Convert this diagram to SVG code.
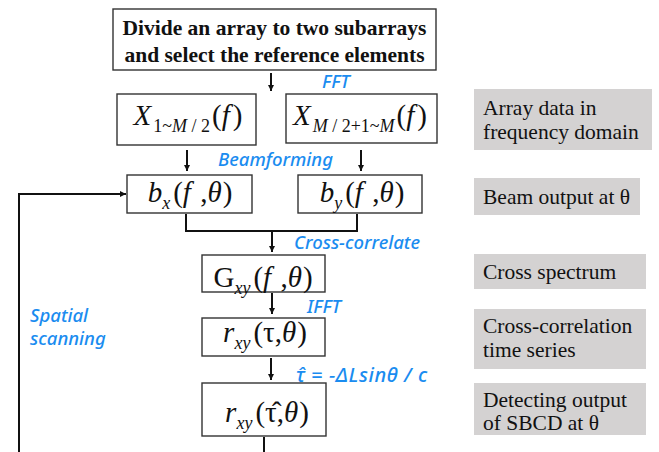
<svg xmlns="http://www.w3.org/2000/svg" width="659" height="452" viewBox="0 0 659 452">
<defs>
<marker id="ah" viewBox="0 0 10 10" refX="10" refY="5" markerWidth="3.2" markerHeight="3.2" orient="auto" markerUnits="strokeWidth">
<path d="M0,0 L10,5 L0,10 Z" fill="#111"/>
</marker>
<style>
.box{fill:#fff;stroke:#333;stroke-width:1.4}
.gbox{fill:#d4d2d2;stroke:none}
.conn{fill:none;stroke:#111;stroke-width:2}
.arr{fill:none;stroke:#111;stroke-width:2;marker-end:url(#ah)}
.math{font-family:"Liberation Serif",serif;font-style:italic;font-size:29px;fill:#111;text-anchor:middle}
.up{font-style:normal}
.sub{font-size:18px}
.lbl{font-family:"Noto Sans",sans-serif;font-style:italic;font-size:18.5px;fill:#1a8cf0;font-weight:500}
.gt{font-family:"Liberation Serif",serif;font-size:21.5px;fill:#111}
.tt{font-family:"Liberation Serif",serif;font-size:21.5px;font-weight:bold;fill:#111;text-anchor:middle}
</style>
</defs>
<rect width="659" height="452" fill="#fff"/>

<g id="connectors">
<path class="arr" d="M271,73 V91"/>
<path class="arr" d="M187,150 V171"/>
<path class="arr" d="M361,150 V171"/>
<path class="conn" d="M186,214 V231 H357 V214"/>
<path class="arr" d="M272,231 V252"/>
<path class="arr" d="M272,293 V314"/>
<path class="arr" d="M271,358 V380"/>
<path class="conn" d="M264,437 V452"/>
<path class="arr" d="M19,452 V194 H126"/>
</g>

<g id="labels">
<text class="lbl" x="322" y="88">FFT</text>
<text class="lbl" x="218" y="166">Beamforming</text>
<text class="lbl" x="294" y="249">Cross-correlate</text>
<text class="lbl" x="307" y="313">IFFT</text>
<text class="lbl" x="30" y="322">Spatial</text>
<text class="lbl" x="30" y="345">scanning</text>
<text class="lbl" x="296" y="382" style="font-size:20px;letter-spacing:0.6px">τ̂ = −Δ<tspan>L</tspan>sin<tspan>θ</tspan> / c</text>
</g>

<g id="n-top">
<rect class="box" x="113" y="9" width="323" height="61"/>
<text class="tt" x="274.5" y="35">Divide an array to two subarrays</text>
<text class="tt" x="274.5" y="62">and select the reference elements</text>
</g>

<g id="n-x1">
<rect class="box" x="117" y="94" width="139" height="51"/>
<text class="math" x="188" y="125">X<tspan class="sub up" dy="7" dx="2">1~</tspan><tspan class="sub">M</tspan><tspan class="sub up"> / 2</tspan><tspan class="up" dy="-7" dx="2">(</tspan>f<tspan class="up" dx="3">)</tspan></text>
</g>

<g id="n-x2">
<rect class="box" x="286" y="94" width="151" height="49"/>
<text class="math" x="360" y="125">X<tspan class="sub" dy="7" dx="2">M</tspan><tspan class="sub up"> / 2+1~</tspan><tspan class="sub">M</tspan><tspan class="up" dy="-7" dx="2">(</tspan>f<tspan class="up" dx="3">)</tspan></text>
</g>

<g id="n-bx">
<rect class="box" x="127" y="175" width="125" height="38"/>
<text class="math" x="190" y="202">b<tspan class="sub" dy="7">x</tspan><tspan class="up" dy="-7" dx="3">(</tspan>f<tspan class="up" dx="2"> ,</tspan>θ<tspan class="up" dx="1">)</tspan></text>
</g>

<g id="n-by">
<rect class="box" x="298" y="175" width="124" height="38"/>
<text class="math" x="362" y="202">b<tspan class="sub" dy="7">y</tspan><tspan class="up" dy="-7" dx="3">(</tspan>f<tspan class="up" dx="2"> ,</tspan>θ<tspan class="up" dx="1">)</tspan></text>
</g>

<g id="n-gxy">
<rect class="box" x="202" y="255" width="123" height="37"/>
<text class="math" x="263" y="287"><tspan class="up">G</tspan><tspan class="sub" dy="7">xy</tspan><tspan class="up" dy="-7" dx="3">(</tspan>f<tspan class="up" dx="2"> ,</tspan>θ<tspan class="up" dx="1">)</tspan></text>
</g>

<g id="n-rxy">
<rect class="box" x="202" y="318" width="123" height="38"/>
<text class="math" x="265" y="342">r<tspan class="sub" dy="7">xy</tspan><tspan class="up" dy="-7" dx="3">(</tspan><tspan class="up">τ,</tspan>θ<tspan class="up" dx="1">)</tspan></text>
</g>

<g id="n-rhat">
<rect class="box" x="202" y="383" width="124" height="53"/>
<text class="math" x="267" y="422">r<tspan class="sub" dy="7">xy</tspan><tspan class="up" dy="-7" dx="3">(</tspan><tspan class="up">τ̂,</tspan>θ<tspan class="up" dx="1">)</tspan></text>
</g>

<g id="g1">
<rect class="gbox" x="474" y="89" width="178" height="61"/>
<text class="gt" x="483" y="115">Array data in</text>
<text class="gt" x="483" y="139">frequency domain</text>
</g>
<g id="g2">
<rect class="gbox" x="474" y="178" width="166" height="37"/>
<text class="gt" x="483" y="204">Beam output at θ</text>
</g>
<g id="g3">
<rect class="gbox" x="474" y="254" width="172" height="35"/>
<text class="gt" x="483" y="279">Cross spectrum</text>
</g>
<g id="g4">
<rect class="gbox" x="474" y="309" width="172" height="60"/>
<text class="gt" x="483" y="333">Cross-correlation</text>
<text class="gt" x="483" y="357">time series</text>
</g>
<g id="g5">
<rect class="gbox" x="474" y="383" width="172" height="52"/>
<text class="gt" x="483" y="407">Detecting output</text>
<text class="gt" x="483" y="430">of SBCD at θ</text>
</g>
</svg>
